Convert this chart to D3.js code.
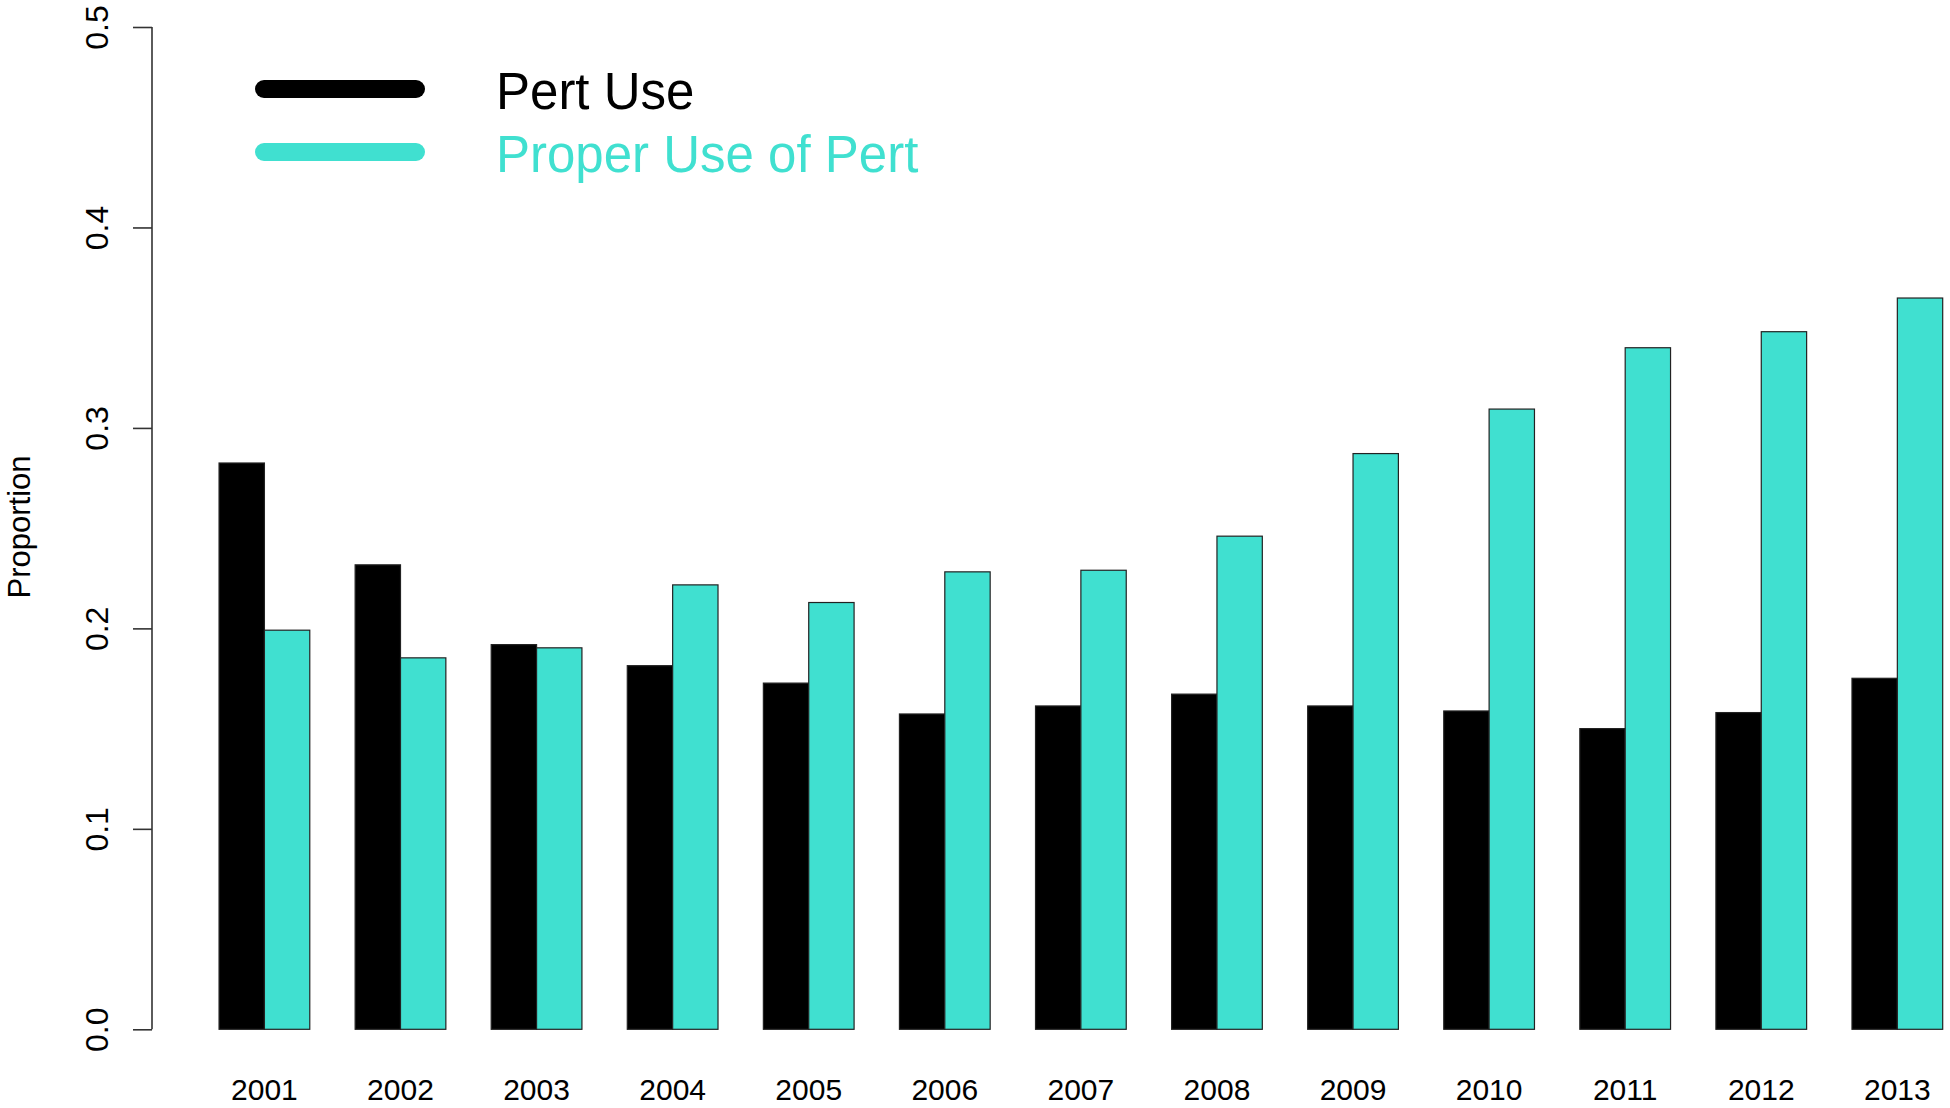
<!DOCTYPE html>
<html>
<head>
<meta charset="utf-8">
<script src="https://cdn.jsdelivr.net/npm/d3@7"></script>
<style>
  html, body { margin: 0; padding: 0; background: #fff; }
  svg { display: block; font-family: "Liberation Sans", Arial, Helvetica, sans-serif; }
</style>
</head>
<body>
<svg id="chart" width="1950" height="1108"></svg>
<script>
const years = ["2001","2002","2003","2004","2005","2006","2007","2008","2009","2010","2011","2012","2013"];
const pertUse = [0.2825, 0.2317, 0.1919, 0.1814, 0.1727, 0.1573, 0.1613, 0.1672, 0.1613, 0.1588, 0.1500, 0.1580, 0.1751];
const properUse = [0.1991, 0.1853, 0.1903, 0.2217, 0.2129, 0.2282, 0.2290, 0.2460, 0.2872, 0.3094, 0.3400, 0.3480, 0.3648];
const seriesNames = ["Pert Use", "Proper Use of Pert"];
const seriesColors = ["#000000", "#40E0D0"];
const yTicks = [0, 0.1, 0.2, 0.3, 0.4, 0.5];
const yLabel = "Proportion";

const svg = d3.select("#chart");

const y = d3.scaleLinear().domain([0, 0.5]).range([1029.3, 27]);
const x = d3.scaleBand().domain(years).range([173.7, 1942.7])
  .paddingInner(1/3).paddingOuter(1/6).align(1);
const xs = d3.scaleBand().domain([0, 1]).range([0, x.bandwidth()]);

const data = years.map((yr, i) => ({ year: yr, values: [pertUse[i], properUse[i]] }));

// bars
const groups = svg.append("g").selectAll("g").data(data).join("g")
  .attr("transform", d => `translate(${x(d.year)},0)`);
groups.selectAll("rect").data(d => d.values.map((v, k) => ({ v, k }))).join("rect")
  .attr("x", d => xs(d.k))
  .attr("width", xs.bandwidth())
  .attr("y", d => y(d.v))
  .attr("height", d => y(0) - y(d.v))
  .attr("fill", d => seriesColors[d.k])
  .attr("stroke", "#222")
  .attr("stroke-width", 1.2);

// y axis
const axisX = 152;
const yAxis = d3.axisLeft(y).tickValues(yTicks).tickSize(19).tickFormat(d3.format(".1f"));
const ga = svg.append("g").attr("transform", `translate(${axisX},0)`).call(yAxis);
ga.select(".domain").attr("d", `M0,${y(0.5)}V${y(0)}`).attr("stroke", "#333").attr("stroke-width", 1.6);
ga.selectAll(".tick line").attr("stroke", "#333").attr("stroke-width", 1.6);
ga.selectAll(".tick text")
  .attr("x", null).attr("dy", null)
  .attr("transform", "translate(-44,0) rotate(-90)")
  .attr("text-anchor", "middle")
  .attr("font-size", 32)
  .attr("fill", "#000")
  .attr("font-family", "'Liberation Sans', Arial, sans-serif");

// x labels
svg.append("g").selectAll("text").data(years).join("text")
  .attr("x", d => x(d) + x.bandwidth() / 2)
  .attr("y", 1100)
  .attr("text-anchor", "middle")
  .attr("font-size", 30)
  .attr("fill", "#000")
  .text(d => d);

// y label
svg.append("text")
  .attr("transform", `translate(30,527) rotate(-90)`)
  .attr("text-anchor", "middle")
  .attr("font-size", 31)
  .attr("fill", "#000")
  .text(yLabel);

// legend
const legY = [89, 152];
const legBase = [109, 172];
const leg = svg.append("g");
seriesNames.forEach((name, k) => {
  leg.append("line")
    .attr("x1", 264).attr("x2", 416)
    .attr("y1", legY[k]).attr("y2", legY[k])
    .attr("stroke", seriesColors[k])
    .attr("stroke-width", 18)
    .attr("stroke-linecap", "round");
  leg.append("text")
    .attr("x", 496).attr("y", legBase[k])
    .attr("font-size", 51)
    .attr("fill", seriesColors[k])
    .text(name);
});
</script>
</body>
</html>
